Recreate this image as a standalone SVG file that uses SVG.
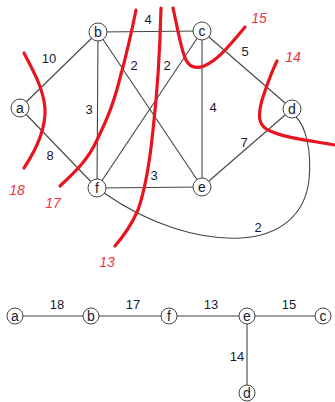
<svg xmlns="http://www.w3.org/2000/svg" width="335" height="402" viewBox="0 0 335 402">
<style>
.e{stroke:#444;stroke-width:1.1;fill:none}
.n circle{fill:#fff;stroke:#444;stroke-width:1}
.n text,.w{font-family:"Liberation Sans",Arial,sans-serif;font-size:13px;fill:#1a1a33;text-anchor:middle}
.n text{font-size:14px}
.cut{stroke:#e8141f;stroke-width:3.2;fill:none;stroke-linecap:round}
.cl{font-family:"Liberation Sans",Arial,sans-serif;font-size:14px;font-style:italic;fill:#ee3344;text-anchor:middle}
</style>
<rect width="335" height="402" fill="#fff"/>
<g id="connectors">
<line class="e" x1="20" y1="108" x2="98" y2="32"/>
<line class="e" x1="20" y1="108" x2="97" y2="188"/>
<line class="e" x1="98" y1="32" x2="202" y2="31"/>
<line class="e" x1="98" y1="32" x2="97" y2="188"/>
<line class="e" x1="98" y1="32" x2="202" y2="187"/>
<line class="e" x1="97" y1="188" x2="202" y2="31"/>
<line class="e" x1="202" y1="31" x2="202" y2="187"/>
<line class="e" x1="202" y1="31" x2="292" y2="109"/>
<line class="e" x1="292" y1="109" x2="202" y2="187"/>
<line class="e" x1="97" y1="188" x2="202" y2="187"/>
<path class="e" d="M104,193 C150,225 200,240 240,238 C280,236 305,215 309,180 C312,150 305,125 296,117"/>
<line class="e" x1="15" y1="316" x2="323" y2="316"/>
<line class="e" x1="247" y1="316" x2="247" y2="395"/>
</g>
<g id="weights">
<text class="w" x="49" y="63">10</text>
<text class="w" x="50" y="160">8</text>
<text class="w" x="148" y="24">4</text>
<text class="w" x="134" y="70">2</text>
<text class="w" x="167" y="70">2</text>
<text class="w" x="89" y="114">3</text>
<text class="w" x="213" y="112">4</text>
<text class="w" x="245" y="56">5</text>
<text class="w" x="244" y="147">7</text>
<text class="w" x="154" y="180">3</text>
<text class="w" x="258" y="232">2</text>
<text class="w" x="57" y="309">18</text>
<text class="w" x="133" y="309">17</text>
<text class="w" x="211" y="309">13</text>
<text class="w" x="289" y="309">15</text>
<text class="w" x="237" y="361">14</text>
</g>
<g id="cuts">
<path class="cut" d="M24,53 C34,72 43,88 45,108 C46,128 36,150 24,168"/>
<path class="cut" d="M136,10 C130,40 125,60 120,78 C112,110 104,125 97,140 C88,160 75,172 60,186"/>
<path class="cut" d="M161,8 C160,50 157,95 153,130 C150,160 145,190 138,210 C130,228 122,238 115,246"/>
<path class="cut" d="M173,8 C178,30 181,50 186,60 C190,68 196,69 204,66 C218,60 230,45 245,27"/>
<path class="cut" d="M277,61 C270,75 266,88 262,100 C258,115 258,125 268,130 C285,138 305,140 335,145"/>
<text class="cl" x="17" y="195">18</text>
<text class="cl" x="53" y="208">17</text>
<text class="cl" x="107" y="267">13</text>
<text class="cl" x="259" y="23">15</text>
<text class="cl" x="293" y="62">14</text>
</g>
<g id="node-a" class="n"><circle cx="20" cy="108" r="9"/><text x="20" y="113">a</text></g>
<g id="node-b" class="n"><circle cx="98" cy="32" r="9"/><text x="98" y="37">b</text></g>
<g id="node-c" class="n"><circle cx="202" cy="31" r="9"/><text x="202" y="36">c</text></g>
<g id="node-d" class="n"><circle cx="292" cy="109" r="9"/><text x="292" y="114">d</text></g>
<g id="node-e" class="n"><circle cx="202" cy="187" r="9"/><text x="202" y="192">e</text></g>
<g id="node-f" class="n"><circle cx="97" cy="188" r="9"/><text x="97" y="193">f</text></g>
<g id="tree-a" class="n"><circle cx="15" cy="316" r="8"/><text x="15" y="321">a</text></g>
<g id="tree-b" class="n"><circle cx="91" cy="316" r="8"/><text x="91" y="321">b</text></g>
<g id="tree-f" class="n"><circle cx="169" cy="316" r="8"/><text x="169" y="321">f</text></g>
<g id="tree-e" class="n"><circle cx="247" cy="316" r="8"/><text x="247" y="321">e</text></g>
<g id="tree-c" class="n"><circle cx="323" cy="316" r="8"/><text x="323" y="321">c</text></g>
<g id="tree-d" class="n"><circle cx="247" cy="393" r="8"/><text x="247" y="398">d</text></g>
</svg>
